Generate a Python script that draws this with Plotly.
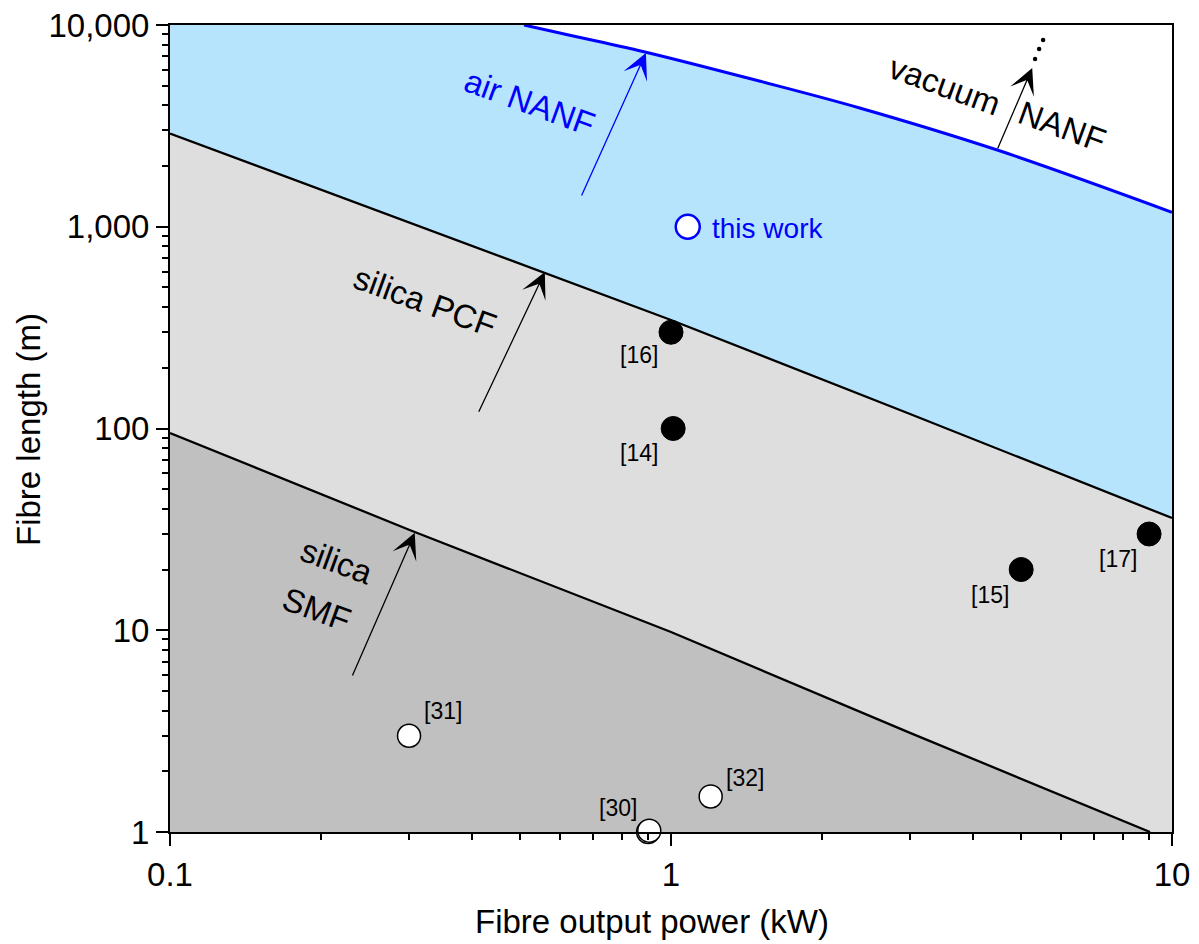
import numpy as np
import plotly.graph_objects as go

# ---------------- data ----------------
# boundary curves: fibre output power (kW) vs max fibre length (m)
smf_power = [0.1, 0.3, 1.0, 3.0, 9.04]
smf_length = [95, 31.5, 9.8, 3.1, 1.0]

pcf_power = [0.1, 0.3, 1.0, 3.0, 10.0]
pcf_length = [2900, 1050, 345, 118, 36]

nanf_power = [0.509, 0.6, 0.887, 1.5, 2.38, 4.48, 10.0]
nanf_length = [10000, 9120, 7350, 5275, 3880, 2400, 1180]

# published results
filled_labels = ["[16]", "[14]", "[15]", "[17]"]
filled_power = [1.0, 1.01, 5.0, 9.0]
filled_length = [300, 100, 20, 30]

open_labels = ["[31]", "[32]", "[30]"]
open_power = [0.3, 1.2, 0.9]
open_length = [3.0, 1.5, 1.0]
extra_open_power = [0.905]   # second, overlapping circle of [30]
extra_open_length = [1.015]

this_work_power = [1.08]
this_work_length = [1000]

x_tickvals = [0.1, 1, 10]
x_ticktext = ["0.1", "1", "10"]
y_tickvals = [1, 10, 100, 1000, 10000]
y_ticktext = ["1", "10", "100", "1,000", "10,000"]
x_minor = [0.2, 0.3, 0.4, 0.5, 0.6, 0.7, 0.8, 0.9, 2, 3, 4, 5, 6, 7, 8, 9]
y_minor = [m * d for d in [1, 10, 100, 1000] for m in range(2, 10)]

# ---------------- styling ----------------
FONT = "Liberation Sans, Arial, sans-serif"
BLUE = "#0000FF"
BLUE_FILL = "#B5E4FC"
LIGHT_GRAY = "#DEDEDE"
DARK_GRAY = "#C0C0C0"

L_, R_, T_, B_ = 170, 27, 25, 112
W, H = 1199, 944
PW, PH = W - L_ - R_, H - T_ - B_


def px(xp, yp):
    return (xp - L_) / PW, (H - B_ - yp) / PH


fig = go.Figure()

# light gray region below the PCF curve
fig.add_trace(go.Scatter(
    x=pcf_power + [pcf_power[-1], pcf_power[0]],
    y=pcf_length + [1, 1],
    mode="lines", fill="toself", fillcolor=LIGHT_GRAY,
    line=dict(width=0), hoverinfo="skip", showlegend=False))

# dark gray region below the SMF curve
fig.add_trace(go.Scatter(
    x=smf_power + [smf_power[0]],
    y=smf_length + [1],
    mode="lines", fill="toself", fillcolor=DARK_GRAY,
    line=dict(width=0), hoverinfo="skip", showlegend=False))

# blue region between PCF and NANF curves
fig.add_trace(go.Scatter(
    x=pcf_power, y=pcf_length, mode="lines",
    line=dict(width=0), hoverinfo="skip", showlegend=False))
fig.add_trace(go.Scatter(
    x=[0.1] + nanf_power, y=[10000] + nanf_length, mode="lines",
    line=dict(width=0, shape="spline"), fill="tonexty", fillcolor=BLUE_FILL,
    hoverinfo="skip", showlegend=False))

# boundary lines
fig.add_trace(go.Scatter(x=smf_power, y=smf_length, mode="lines",
                         line=dict(color="black", width=2.3), showlegend=False))
fig.add_trace(go.Scatter(x=pcf_power, y=pcf_length, mode="lines",
                         line=dict(color="black", width=2.3), showlegend=False))
fig.add_trace(go.Scatter(x=nanf_power, y=nanf_length, mode="lines",
                         line=dict(color=BLUE, width=3, shape="spline"),
                         showlegend=False))

# markers
fig.add_trace(go.Scatter(x=filled_power, y=filled_length, mode="markers",
                         marker=dict(size=24, color="black",
                                     line=dict(color="black", width=1)),
                         cliponaxis=False, showlegend=False))
fig.add_trace(go.Scatter(x=open_power + extra_open_power,
                         y=open_length + extra_open_length, mode="markers",
                         marker=dict(size=23, color="white",
                                     line=dict(color="black", width=1.5)),
                         cliponaxis=False, showlegend=False))
fig.add_trace(go.Scatter(x=this_work_power, y=this_work_length, mode="markers",
                         marker=dict(size=24, color="white",
                                     line=dict(color=BLUE, width=2.5)),
                         cliponaxis=False, showlegend=False))

# dotted continuation above the vacuum NANF arrow
dots_power = [5.53, 5.43, 5.33]
dots_length = [8430, 7600, 6780]
fig.add_trace(go.Scatter(x=dots_power, y=dots_length, mode="markers",
                         marker=dict(size=4.5, color="black"),
                         showlegend=False))

annotations = []

# reference labels
label_offsets = {"[16]": (-32, -23), "[14]": (-34, -24), "[15]": (-31, -25),
                 "[17]": (-31, -25), "[31]": (34, 25), "[32]": (34, 18),
                 "[30]": (-30, 24)}
for lab, p, l in zip(filled_labels + open_labels,
                     filled_power + open_power,
                     filled_length + open_length):
    dx, dy = label_offsets[lab]
    annotations.append(dict(x=np.log10(p), y=np.log10(l), xref="x", yref="y",
                            text=lab, showarrow=False, xshift=dx, yshift=dy,
                            font=dict(family=FONT, size=23, color="black")))

annotations.append(dict(x=np.log10(this_work_power[0]),
                        y=np.log10(this_work_length[0]), xref="x", yref="y",
                        text="this work", showarrow=False, xanchor="left",
                        xshift=22, yshift=-2,
                        font=dict(family=FONT, size=28, color=BLUE)))

# arrows: (tail power, tail length, tip power, tip length, colour)
arrows = [
    (0.2306, 5.87, 0.308, 30.4, "black"),
    (0.412, 119, 0.560, 597, "black"),
    (0.661, 1403, 0.891, 7264, BLUE),
    (4.475, 2400, 5.26, 6124, "black"),
]
for tp, tl, hp, hl, col in arrows:
    annotations.append(dict(x=np.log10(hp), y=np.log10(hl),
                            ax=np.log10(tp), ay=np.log10(tl),
                            xref="x", yref="y", axref="x", ayref="y",
                            text="", showarrow=True, arrowhead=3,
                            arrowsize=3.3, arrowwidth=1.3, arrowcolor=col,
                            standoff=0, startstandoff=0))

# rotated region labels
region_labels = [
    ("silica PCF", 425, 301, "black"),
    ("silica", 337, 561, "black"),
    ("SMF", 317, 609, "black"),
    ("air NANF", 530, 102, BLUE),
    ("vacuum", 945, 85, "black"),
    ("NANF", 1062, 127, "black"),
]
for txt, xp, yp, col in region_labels:
    xx, yy = px(xp, yp)
    annotations.append(dict(x=xx, y=yy, xref="paper", yref="paper", text=txt,
                            showarrow=False, textangle=20,
                            xanchor="center", yanchor="middle",
                            font=dict(family=FONT, size=33, color=col)))

# axis titles
xx, yy = px(652, 922)
annotations.append(dict(x=xx, y=yy, xref="paper", yref="paper",
                        text="Fibre output power (kW)", showarrow=False,
                        xanchor="center", yanchor="middle",
                        font=dict(family=FONT, size=33, color="black")))
xx, yy = px(29, 430)
annotations.append(dict(x=xx, y=yy, xref="paper", yref="paper",
                        text="Fibre length (m)", showarrow=False,
                        textangle=-90, xanchor="center", yanchor="middle",
                        font=dict(family=FONT, size=33, color="black")))

axis_common = dict(
    type="log", showgrid=False, zeroline=False, automargin=False,
    showline=True, linecolor="black", linewidth=2, mirror=True,
    ticks="outside", ticklen=12, tickwidth=2, tickcolor="black",
    tickfont=dict(family=FONT, size=33, color="black"),
)

fig.update_layout(
    width=W, height=H,
    margin=dict(l=L_, r=R_, t=T_, b=B_, pad=0, autoexpand=False),
    paper_bgcolor="white", plot_bgcolor="white",
    showlegend=False,
    xaxis=dict(axis_common, range=[-1, 1], tickmode="array",
               tickvals=x_tickvals, ticktext=x_ticktext,
               minor=dict(ticks="outside", ticklen=6, tickwidth=2,
                          tickcolor="black", tickmode="array",
                          tickvals=x_minor, showgrid=False)),
    yaxis=dict(axis_common, range=[0, 4], tickmode="array",
               tickvals=y_tickvals, ticktext=y_ticktext,
               minor=dict(ticks="outside", ticklen=6, tickwidth=2,
                          tickcolor="black", tickmode="array",
                          tickvals=y_minor, showgrid=False)),
    annotations=annotations,
)

fig.write_html("out.html")
